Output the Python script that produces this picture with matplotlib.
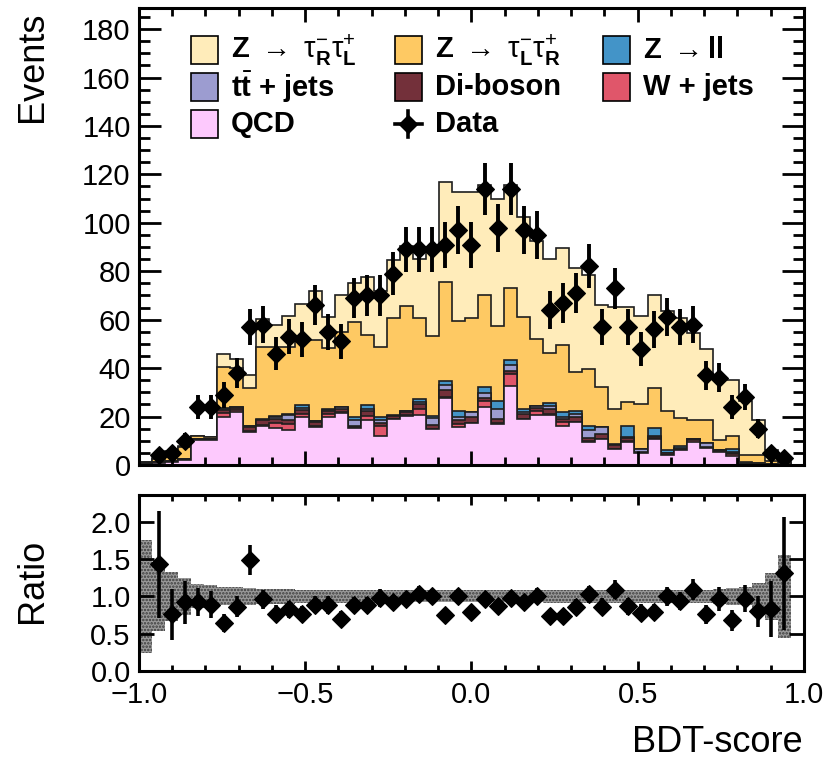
import numpy as np
import matplotlib
matplotlib.use("Agg")
import matplotlib.pyplot as plt
from matplotlib.ticker import MultipleLocator
from matplotlib.patches import Rectangle
from matplotlib.lines import Line2D

plt.rcParams['font.family'] = ['Liberation Sans', 'DejaVu Sans']
plt.rcParams['mathtext.fontset'] = 'custom'
plt.rcParams['mathtext.rm'] = 'Liberation Sans'
plt.rcParams['mathtext.it'] = 'Liberation Sans:italic'
plt.rcParams['mathtext.bf'] = 'Liberation Sans:bold'
plt.rcParams['hatch.linewidth'] = 1.2

# 51 bins on [-1, 1]
n_bins = 51
edges = np.linspace(-1.0, 1.0, n_bins + 1)
centers = 0.5 * (edges[:-1] + edges[1:])

# stacked backgrounds, bottom to top
qcd = [0.5, 1.0, 1.2, 2.0, 10.3, 10.3, 20.0, 22.0, 13.8, 16.1, 15.2, 14.5, 20.0, 15.8, 20.0, 21.4, 15.2,
       18.6, 12.0, 19.0, 20.2, 20.7, 14.7, 27.5, 15.6, 17.2, 23.8, 16.9, 32.8, 18.9, 20.7, 20.7, 16.3,
       17.6, 9.6, 10.6, 6.5, 9.6, 4.8, 10.6, 4.1, 6.2, 9.4, 6.9, 5.5, 3.7, 0.4, 0.4, 0.2, 0.1, 0.0]
wjets = [0.1, 0.1, 0.1, 0.2, 0.1, 0.1, 1.6, 0.6, 0.3, 0.3, 2.0, 2.6, 1.2, 0.3, 1.0, 0.5, 0.3,
         1.5, 4.0, 0.2, 0.3, 2.3, 0.3, 0.5, 1.4, 0.3, 2.5, 0.3, 4.8, 0.3, 1.4, 0.3, 1.6,
         0.3, 0.3, 0.3, 0.2, 0.3, 0.2, 0.3, 0.2, 0.2, 0.8, 0.2, 0.2, 0.8, 0.1, 0.1, 0.05, 0.0, 0.0]
diboson = [0.1, 0.1, 0.1, 0.1, 0.3, 0.3, 1.0, 0.8, 1.6, 2.0, 1.6, 1.5, 1.5, 1.5, 1.2, 1.2, 0.5,
           2.0, 1.3, 1.0, 1.5, 2.3, 1.5, 3.0, 1.4, 2.5, 1.4, 1.9, 1.4, 1.8, 1.3, 2.0, 1.0,
           2.0, 1.4, 1.8, 1.6, 1.4, 0.4, 0.8, 0.5, 0.3, 0.4, 0.5, 0.5, 0.5, 0.1, 0.1, 0.05, 0.0, 0.0]
ttbar = [0.0, 0.05, 0.1, 0.1, 0.1, 0.1, 0.6, 0.5, 0.3, 0.3, 1.2, 2.2, 0.8, 0.5, 0.6, 0.8, 2.5,
         1.2, 1.4, 0.2, 0.2, 0.6, 2.8, 2.0, 1.6, 2.0, 2.0, 4.1, 2.1, 1.0, 1.1, 1.5, 0.8,
         1.3, 3.0, 3.0, 0.1, 0.2, 1.3, 0.3, 0.2, 0.2, 0.1, 1.3, 0.05, 0.2, 0.1, 0.1, 0.05, 0.0, 0.0]
zll = [0.0, 0.05, 0.0, 0.0, 0.0, 0.0, 0.2, 0.1, 0.1, 0.2, 0.2, 0.3, 1.3, 0.2, 0.2, 0.2, 1.5,
       1.5, 1.0, 0.1, 0.2, 1.2, 0.9, 1.8, 2.4, 0.0, 2.4, 3.4, 2.3, 1.0, 0.0, 1.3, 2.1,
       1.2, 2.0, 0.1, 0.1, 4.8, 0.1, 3.2, 1.1, 0.9, 0.1, 0.1, 0.05, 1.6, 0.7, 0.3, 0.05, 0.1, 0.0]
ztau_lr = [0.4, 1.0, 3.8, 5.0, 1.2, 0.7, 17.0, 16.0, 15.6, 29.7, 28.4, 27.5, 26.2, 33.2, 25.3, 30.9, 39.2,
           28.7, 28.9, 40.1, 43.4, 33.5, 33.2, 40.6, 36.9, 38.7, 38.2, 30.9, 29.6, 38.3, 27.7, 20.6, 27.8,
           16.1, 23.3, 16.6, 14.5, 9.6, 18.4, 16.6, 16.3, 11.5, 7.8, 9.6, 4.0, 5.2, 2.9, 3.3, 1.1, 0.6, 0.0]
ztau_rl = [0.2, 0.4, 0.6, 0.6, 0.1, 0.1, 5.5, 3.7, 5.5, 11.7, 9.3, 13.1, 15.5, 20.5, 13.0, 15.2, 15.8,
           24.1, 23.4, 24.1, 24.7, 24.6, 36.6, 41.6, 53.4, 52.0, 45.4, 52.3, 42.7, 41.2, 40.1, 38.7, 39.8,
           42.7, 38.7, 33.7, 42.4, 39.3, 36.3, 38.4, 41.2, 41.3, 35.9, 29.2, 26.2, 23.0, 22.2, 14.2, 4.8, 1.3, 0.0]

# observed events (0 = no point drawn)
data = [0, 4, 5, 10, 24, 24, 29, 38, 57, 58, 46, 53, 52, 66, 55, 51, 69,
        70, 70, 79, 89, 89, 89, 91, 97, 91, 114, 98, 114, 97, 95, 64, 67,
        71, 82, 57, 73, 57, 48, 56, 61, 57, 58, 37, 36, 24, 28, 15, 5, 3, 0]

# data / MC in the lower panel and MC uncertainty half-width
ratio = [np.nan, 1.43, 0.76, 0.92, 0.92, 0.89, 0.64, 0.86, 1.49, 0.96, 0.77, 0.83, 0.77, 0.89, 0.89, 0.70, 0.89,
         0.89, 0.98, 0.92, 0.96, 1.03, 1.00, 0.75, 1.00, 0.79, 0.97, 0.87, 0.98, 0.92, 1.01, 0.74, 0.74,
         0.86, 1.03, 0.86, 1.09, 0.87, 0.78, 0.79, 1.00, 0.94, 1.09, 0.76, 0.97, 0.68, 0.97, 0.80, 0.83, 1.31, np.nan]
band = [0.76, 0.46, 0.33, 0.25, 0.16, 0.15, 0.12, 0.12, 0.11, 0.10, 0.10, 0.10, 0.09, 0.085, 0.085, 0.085, 0.085,
        0.085, 0.085, 0.085, 0.085, 0.08, 0.08, 0.08, 0.08, 0.08, 0.08, 0.08, 0.08, 0.08, 0.08, 0.085, 0.085,
        0.085, 0.085, 0.085, 0.085, 0.085, 0.085, 0.085, 0.085, 0.09, 0.09, 0.09, 0.10, 0.11, 0.12, 0.18, 0.31, 0.56, 0.0]

components = [qcd, wjets, diboson, ttbar, zll, ztau_lr, ztau_rl]
colors = ['#fdc9fd', '#e0566a', '#73303a', '#9c9cd0', '#4394c8', '#fec963', '#ffecba']
labels = ['QCD', 'W + jets', 'Di-boson', r'$\mathbf{t}\bar{\mathbf{t}}$ + jets', r'Z $\rightarrow$ll',
          r'Z $\rightarrow\ \mathrm{τ}^{-}_{\mathbf{L}}\mathrm{τ}^{+}_{\mathbf{R}}$',
          r'Z $\rightarrow\ \mathrm{τ}^{-}_{\mathbf{R}}\mathrm{τ}^{+}_{\mathbf{L}}$']

data = np.array(data, dtype=float)
ratio = np.array(ratio)
band = np.array(band)
cum = np.cumsum(np.array(components), axis=0)

W, H = 828, 761
fig = plt.figure(figsize=(W / 100, H / 100), dpi=100)
ax = fig.add_axes([139 / W, 1 - 465 / H, 665 / W, 457 / H])
axr = fig.add_axes([139 / W, 1 - 671 / H, 665 / W, 176 / H])

# stack, drawn from the top layer down
for i in range(len(components) - 1, -1, -1):
    ax.stairs(cum[i], edges, baseline=0, fill=True, facecolor=colors[i],
              edgecolor='#1e1e1e', linewidth=1.2)

m = data > 0
ax.errorbar(centers[m], data[m], yerr=np.sqrt(data[m]), fmt='D', ms=9, color='black',
            mec='black', mew=0.8, elinewidth=2.8, capsize=0, zorder=5)

ax.set_xlim(-1, 1)
ax.set_ylim(0, 188.7)
ax.yaxis.set_major_locator(MultipleLocator(20))
ax.yaxis.set_minor_locator(MultipleLocator(5))
ax.xaxis.set_major_locator(MultipleLocator(0.5))
ax.xaxis.set_minor_locator(MultipleLocator(0.1))
ax.tick_params(axis='both', which='both', direction='in', top=True, right=True, width=2.0)
ax.tick_params(axis='y', which='major', length=16, labelsize=21, pad=6)
ax.tick_params(axis='y', which='minor', length=8)
ax.tick_params(axis='x', which='major', length=10, labelbottom=False)
ax.tick_params(axis='x', which='minor', length=6)

# ratio panel
mr = ~np.isnan(ratio)
axr.stairs(1 + band, edges, baseline=1 - band, fill=True, facecolor='#9a9a9a',
           edgecolor='#3c3c3c', hatch='.....', linewidth=0)
axr.errorbar(centers[mr], ratio[mr], yerr=ratio[mr] / np.sqrt(data[mr]), fmt='D', ms=9,
             color='black', mec='black', mew=0.8, elinewidth=2.6, capsize=0, zorder=5)
axr.set_xlim(-1, 1)
axr.set_ylim(0, 2.36)
axr.yaxis.set_major_locator(MultipleLocator(0.5))
axr.xaxis.set_major_locator(MultipleLocator(0.5))
axr.xaxis.set_minor_locator(MultipleLocator(0.1))
axr.tick_params(axis='both', which='both', direction='in', top=True, right=True, width=2.0,
                labelsize=21)
axr.tick_params(axis='y', which='major', length=11, pad=6)
axr.tick_params(axis='x', which='major', length=7, pad=7)
axr.tick_params(axis='x', which='minor', length=4)

for a in (ax, axr):
    for s in a.spines.values():
        s.set_linewidth(2.2)

fig.text(803 / W, 1 - 742 / H, 'BDT-score', ha='right', va='center', fontsize=26)
fig.text(33 / W, 1 - 12 / H, 'Events', rotation=90, ha='center', va='top', fontsize=26)
fig.text(33 / W, 1 - 581 / H, 'Ratio', rotation=90, ha='center', va='center', fontsize=26)

# legend, three columns
def fx(px):
    return px / W

def fy(py):
    return 1 - py / H

box_x = [191, 395, 603]
row_y = [50, 87, 124]
box = 27
entries = [(6, 0, 0), (5, 0, 1), (4, 0, 2), (3, 1, 0), (2, 1, 1), (1, 1, 2), (0, 2, 0)]
for idx, r, c in entries:
    fig.add_artist(Rectangle((fx(box_x[c]), fy(row_y[r] + box / 2)), box / W, box / H,
                             transform=fig.transFigure, facecolor=colors[idx],
                             edgecolor='black', linewidth=1.2))
    fig.text(fx(box_x[c] + box + 13), fy(row_y[r]), labels[idx], ha='left', va='center',
             fontsize=21, fontweight='bold')

# data entry
cx, cy = box_x[1] + box / 2, row_y[2]
fig.add_artist(Line2D([fx(box_x[1]), fx(box_x[1] + box)], [fy(cy), fy(cy)],
                      transform=fig.transFigure, color='black', linewidth=2.6))
fig.add_artist(Line2D([fx(cx), fx(cx)], [fy(cy - 13), fy(cy + 13)],
                      transform=fig.transFigure, color='black', linewidth=2.6))
fig.add_artist(Line2D([fx(cx)], [fy(cy)], transform=fig.transFigure, marker='D', ms=9,
                      color='black'))
fig.text(fx(box_x[1] + box + 13), fy(cy), 'Data', ha='left', va='center', fontsize=21,
         fontweight='bold')

fig.savefig('out.png', dpi=100)
